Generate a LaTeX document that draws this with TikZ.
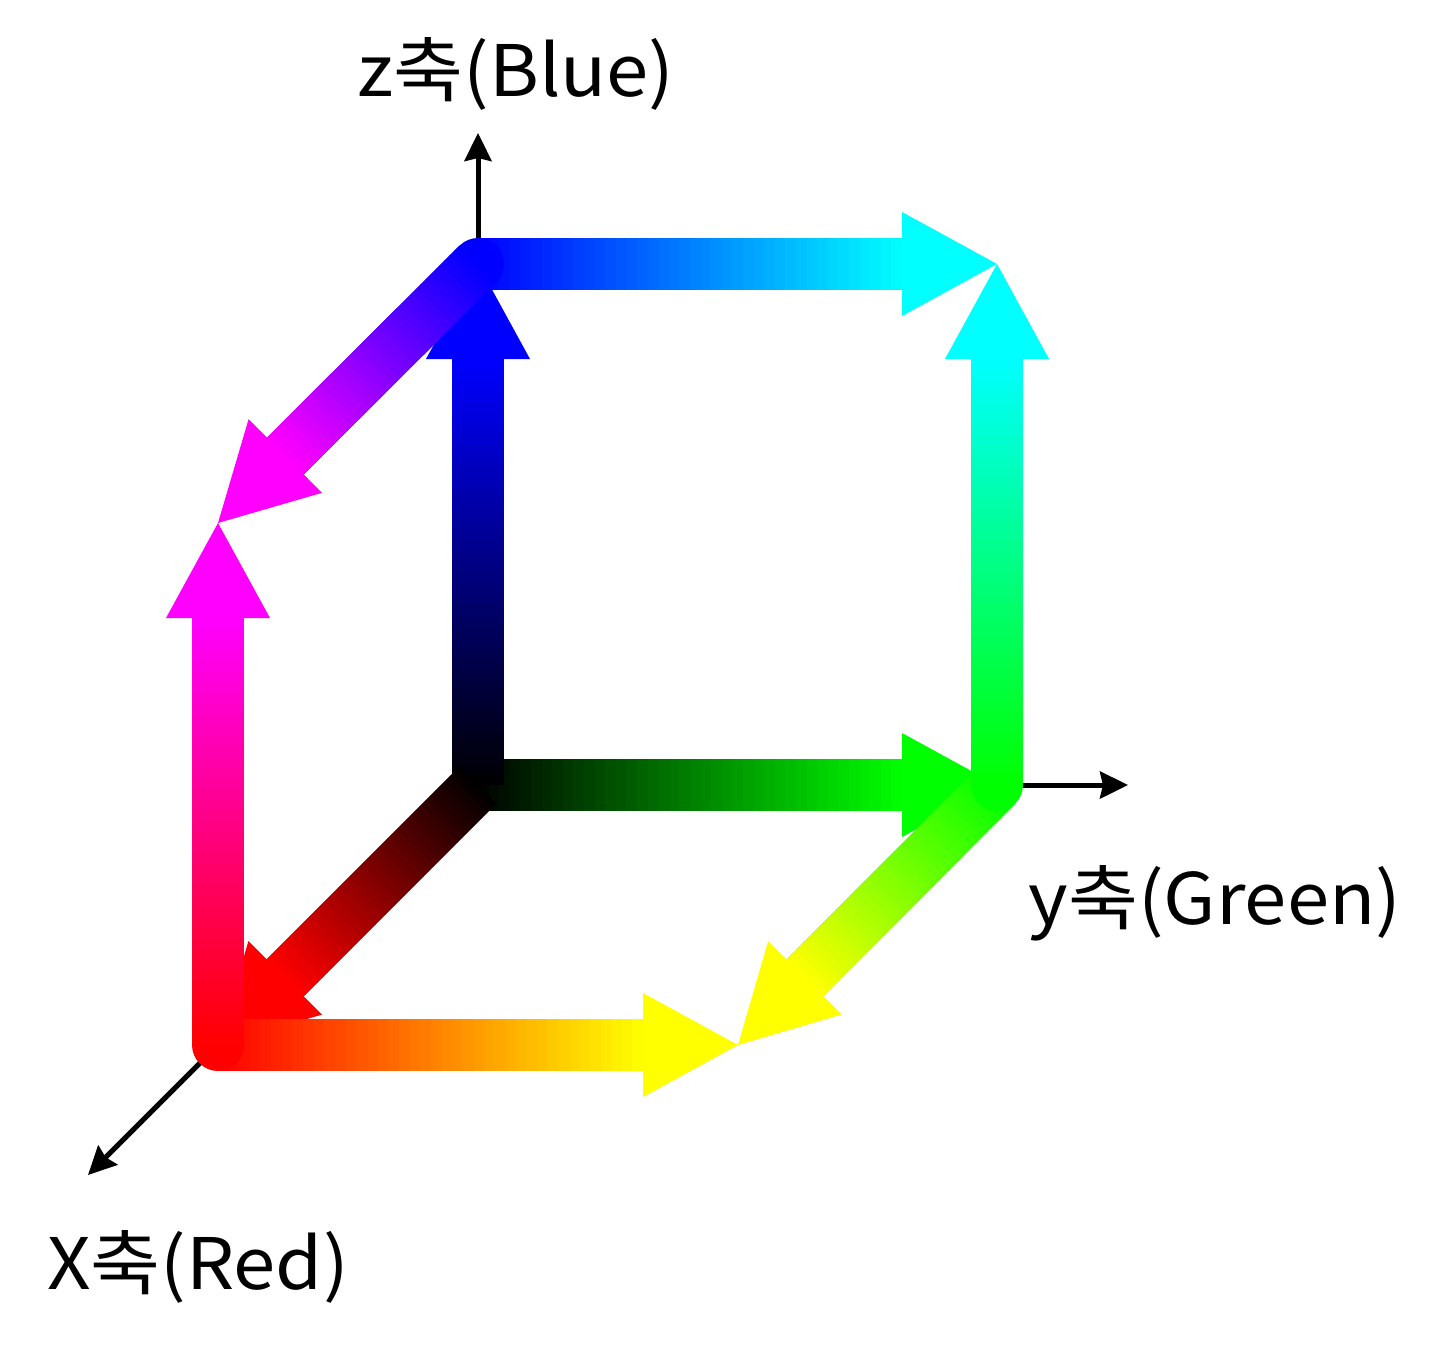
\documentclass[tikz,border=0pt]{standalone}
\usepackage{fontspec}
\newfontfamily\kofont[FakeStretch=1.07]{Noto Sans CJK KR}
\usetikzlibrary{arrows.meta,calc}
\definecolor{cubeBlack}{RGB}{0,0,0}
\definecolor{cubeRed}{RGB}{255,0,0}
\definecolor{cubeGreen}{RGB}{0,255,0}
\definecolor{cubeBlue}{RGB}{0,0,255}
\definecolor{cubeCyan}{RGB}{0,255,255}
\definecolor{cubeMagenta}{RGB}{255,0,255}
\definecolor{cubeYellow}{RGB}{255,255,0}
\tikzset{
  axis/.style={line width=5pt, -{Stealth[length=28pt,width=27pt,inset=3pt]}},
  axislabel/.style={font=\kofont\fontsize{71}{80}\selectfont, inner sep=0pt}
}
% thick edge of the cube: shaft fades from #4 to #5, head in #5
\newcommand{\rgbarrow}[5][butt]{%
  \coordinate (hb) at ($(#3)!95pt!(#2)$);
  \draw[line width=52pt, line cap=#1, #4] (#2) -- (hb);
  \foreach \i in {0,...,39}{
    \pgfmathsetmacro{\p}{2.5*\i+1.25}
    \draw[line width=52pt, color=#5!\p!#4, shorten >=-1pt]
      ($(#2)!\i/40!(hb)$) -- ($(#2)!\i/40+1/40!(hb)$);
  }
  \fill[#5] ($(hb)!52pt!90:(#3)$) -- (#3) -- ($(hb)!52pt!-90:(#3)$) -- cycle;
}

\begin{document}
\begin{tikzpicture}[x=1pt,y=-1pt]
  \useasboundingbox (0,0) rectangle (1449,1350);
  % corners of the colour cube
  \coordinate (O) at (478,785);
  \coordinate (B) at (478,264);
  \coordinate (G) at (997,785);
  \coordinate (C) at (997,264);
  \coordinate (R) at (218,1045);
  \coordinate (M) at (218,523);
  \coordinate (Y) at (738,1045);
  % axes
  \coordinate (ztip) at (478,133);
  \coordinate (ytip) at (1128,785);
  \coordinate (xtip) at (88,1175);
  \draw[axis] (O) -- (ztip);
  \draw[axis] (O) -- (ytip);
  \draw[axis] (O) -- (xtip);
  % edges from black
  \rgbarrow{O}{G}{cubeBlack}{cubeGreen}
  \rgbarrow{O}{B}{cubeBlack}{cubeBlue}
  \rgbarrow{O}{R}{cubeBlack}{cubeRed}
  % outer edges
  \rgbarrow{B}{C}{cubeBlue}{cubeCyan}
  \rgbarrow{R}{Y}{cubeRed}{cubeYellow}
  \rgbarrow{G}{Y}{cubeGreen}{cubeYellow}
  \rgbarrow[round]{G}{C}{cubeGreen}{cubeCyan}
  \rgbarrow[round]{R}{M}{cubeRed}{cubeMagenta}
  \rgbarrow[round]{B}{M}{cubeBlue}{cubeMagenta}
  % labels
  \node[axislabel] (zlabel) at (516,74) {z축(Blue)};
  \node[axislabel] (ylabel) at (1215,903) {y축(Green)};
  \node[axislabel] (xlabel) at (198,1267) {X축(Red)};
\end{tikzpicture}
\end{document}
